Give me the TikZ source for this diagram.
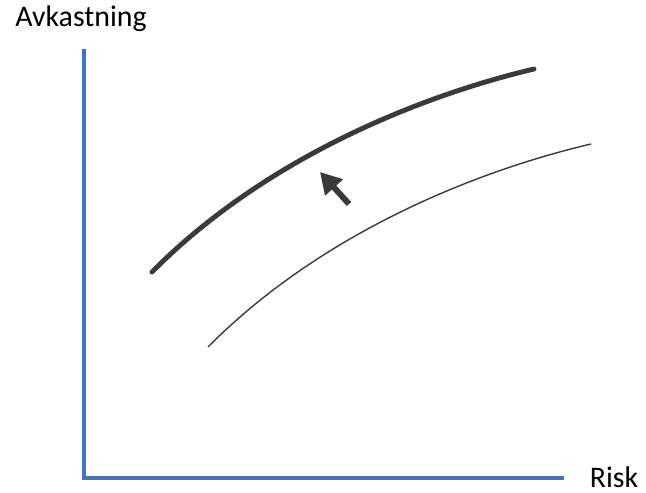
\documentclass[tikz,border=0pt]{standalone}
\usepackage{fontspec}
\setmainfont{Carlito}
\usetikzlibrary{arrows.meta}

\definecolor{axisblue}{HTML}{4472C4}
\definecolor{curvegray}{HTML}{3A3A3A}

\begin{document}
\begin{tikzpicture}[
    x=0.02cm, y=-0.02cm,
    every node/.style={font=\fontsize{17}{20}\selectfont, inner sep=0pt},
    axisline/.style={line width=2.8pt, color=axisblue},
    frontier/.style={line width=2.8pt, color=curvegray, line cap=round},
    oldfrontier/.style={line width=0.8pt, color=curvegray},
    shiftarrow/.style={-{Triangle[length=0.42cm, width=0.46cm]}, line width=3.4pt, color=curvegray}
]
\useasboundingbox (0,0) rectangle (646,493);

% Axes
\coordinate (origin) at (84,478);
\coordinate (ytop) at (84,49);
\coordinate (xend) at (564,478);
\draw[axisline] (ytop) -- (origin) -- (xend);

% Axis labels
\node (ylabel) at (81,19) {Avkastning};
\node (xlabel) at (614,477) {Risk};

% New frontier (thick)
\coordinate (a0) at (152,272);
\coordinate (a1) at (534,69);
\draw[frontier] (a0) .. controls (265,158) and (420,96) .. (a1);

% Old frontier (thin), same curve shifted
\begin{scope}[shift={(56,75)}]
\coordinate (b0) at (152,272);
\coordinate (b1) at (535,69);
\draw[oldfrontier] (b0) .. controls (265,158) and (420,96) .. (b1);
\end{scope}

% Shift arrow
\coordinate (tail) at (349,204);
\coordinate (tip) at (320,172);
\draw[shiftarrow] (tail) -- (tip);

\end{tikzpicture}
\end{document}
